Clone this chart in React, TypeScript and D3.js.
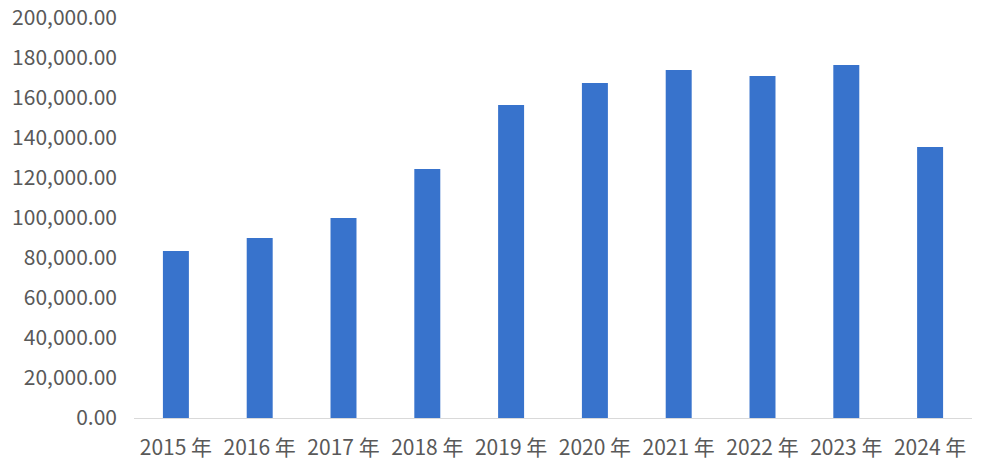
import React, { useEffect, useRef } from 'react';
import * as d3 from 'd3';

const years = ['2015 年', '2016 年', '2017 年', '2018 年', '2019 年', '2020 年', '2021 年', '2022 年', '2023 年', '2024 年'];
const values = [83500, 90000, 100000, 124500, 156500, 167500, 174000, 171000, 176500, 135500];
const yTicks = [0, 20000, 40000, 60000, 80000, 100000, 120000, 140000, 160000, 180000, 200000];

const width = 986, height = 470;
const margin = { top: 18, right: 14, bottom: 52, left: 134 };

const App: React.FC = () => {
  const ref = useRef<SVGSVGElement>(null);

  useEffect(() => {
    const svg = d3.select(ref.current);
    svg.selectAll('*').remove();

    const font = '"Noto Sans CJK SC", "Noto Sans", sans-serif';

    const x = d3.scaleBand()
      .domain(years)
      .range([margin.left, width - margin.right])
      .paddingInner(0.69)
      .paddingOuter(0.345);

    const y = d3.scaleLinear()
      .domain([0, 200000])
      .range([height - margin.bottom, margin.top]);

    const fmt = d3.format(',.2f');

    // y labels
    svg.append('g')
      .selectAll('text')
      .data(yTicks)
      .join('text')
      .attr('x', 117)
      .attr('y', d => y(d))
      .attr('dy', '0.35em')
      .attr('text-anchor', 'end')
      .style('font-family', font)
      .style('font-size', '21px')
      .attr('fill', '#595959')
      .text(d => fmt(d));

    // bars
    svg.append('g')
      .selectAll('rect')
      .data(values)
      .join('rect')
      .attr('x', (d, i) => x(years[i])!)
      .attr('y', d => y(d))
      .attr('width', x.bandwidth())
      .attr('height', d => y(0) - y(d))
      .attr('fill', '#3873CC');

    // baseline
    svg.append('line')
      .attr('x1', margin.left)
      .attr('x2', width - margin.right)
      .attr('y1', y(0) + 0.5)
      .attr('y2', y(0) + 0.5)
      .attr('stroke', '#d9d9d9')
      .attr('stroke-width', 1);

    // x labels
    svg.append('g')
      .selectAll('text')
      .data(years)
      .join('text')
      .attr('x', d => x(d)! + x.bandwidth() / 2)
      .attr('y', y(0) + 37)
      .attr('text-anchor', 'middle')
      .style('font-family', font)
      .style('font-size', '21px')
      .attr('fill', '#595959')
      .text(d => d);
  }, []);

  return (
    <svg
      ref={ref}
      width={width}
      height={height}
      style={{ position: 'absolute', left: 0, top: 0, background: '#fff' }}
    />
  );
};

export default App;
